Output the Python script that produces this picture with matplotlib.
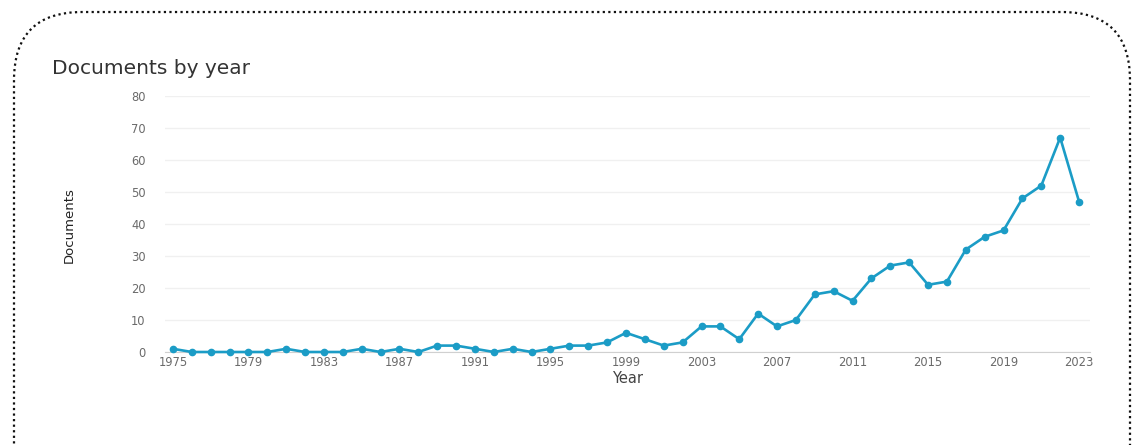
import matplotlib
matplotlib.use("Agg")
import matplotlib.pyplot as plt
from matplotlib.patches import FancyBboxPatch

anios = list(range(1975, 2024))
documentos = [1, 0, 0, 0, 0, 0, 1, 0, 0, 0,
              1, 0, 1, 0, 2, 2, 1, 0, 1, 0,
              1, 2, 2, 3, 6, 4, 2, 3, 8, 8,
              4, 12, 8, 10, 18, 19, 16, 23, 27, 28,
              21, 22, 32, 36, 38, 48, 52, 67, 47]
ticks_x = list(range(1975, 2024, 4))
ticks_y = list(range(0, 81, 10))

color_linea = '#1b9cc6'

fig = plt.figure(figsize=(11.36, 4.45), dpi=100)

# marco punteado redondeado
marco = FancyBboxPatch((14 / 1136, -0.2), 1116 / 1136, 1.173,
                       boxstyle="round,pad=0,rounding_size=0.06",
                       transform=fig.transFigure, fill=False,
                       linestyle=(0, (1, 1.5)), linewidth=1.6, edgecolor='#111111',
                       mutation_aspect=1136 / 445)
fig.patches.append(marco)

ax = fig.add_axes([165 / 1136, 93 / 445, 925 / 1136, 256 / 445])
ax.plot(anios, documentos, color=color_linea, linewidth=1.9, marker='o',
        markersize=4.5, clip_on=False, zorder=3)

ax.set_xlim(1974.58, 2023.58)
ax.set_ylim(0, 80)
ax.set_xticks(ticks_x)
ax.set_yticks(ticks_y)
ax.tick_params(axis='both', length=0, labelsize=8.3, colors='#6a6a6a')
ax.tick_params(axis='x', pad=3)
ax.tick_params(axis='y', pad=14)
ax.grid(axis='y', color='#f0f0f0', linewidth=1)
ax.set_axisbelow(True)
for s in ['top', 'right', 'left']:
    ax.spines[s].set_visible(False)
ax.spines['bottom'].set_color('#d0d0d0')

ax.set_xlabel("Year", fontsize=10.5, color='#444444', labelpad=1)
fig.text(69 / 1136, 1 - 225 / 445, "Documents", rotation=90, ha='center', va='center',
         fontsize=9.5, color='#222222')
fig.text(52 / 1136, 1 - 68 / 445, "Documents by year", ha='left', va='center',
         fontsize=14.5, color='#333333')

fig.savefig("out.png", dpi=100)
